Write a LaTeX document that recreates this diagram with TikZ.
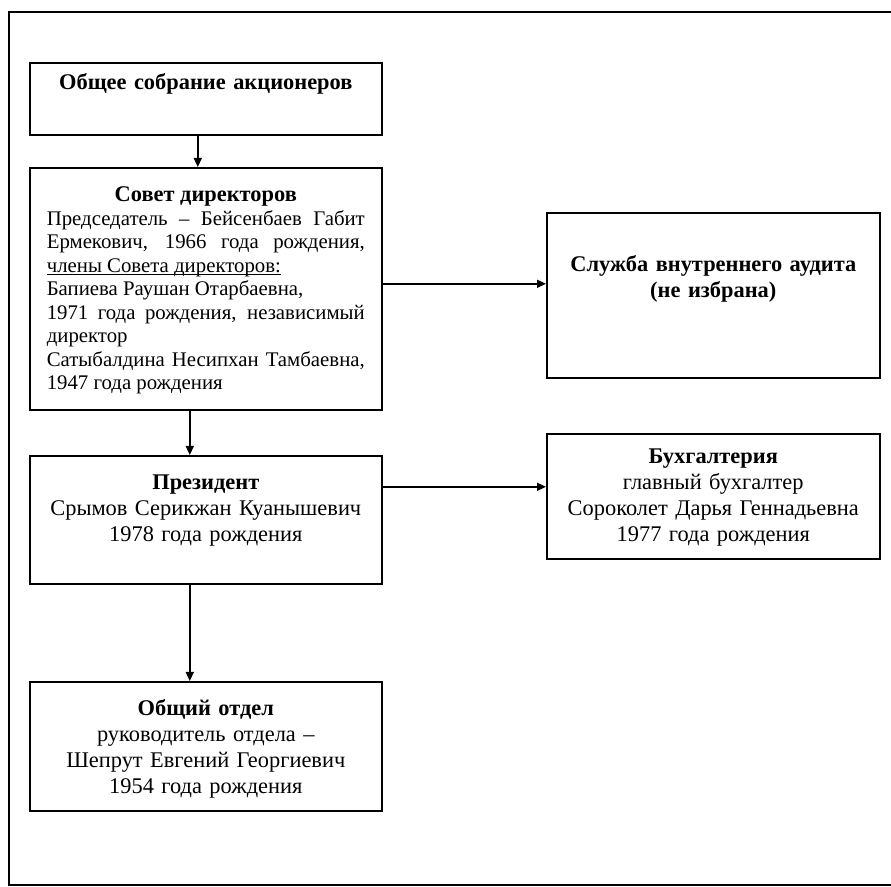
\documentclass[tikz,border=0pt]{standalone}
\usepackage{fontspec}
\setmainfont{Liberation Serif}
\usetikzlibrary{arrows.meta}

\newcommand{\ulbase}[1]{\leavevmode\setbox0\hbox{#1}\rlap{\rule[-1.4pt]{\wd0}{0.45pt}}\box0}

\tikzset{
  box/.style={draw, anchor=north west, inner xsep=6pt, inner ysep=0pt, text width=164pt, align=center, font=\fontsize{11.2}{13}\selectfont},
  rbox/.style={box, text width=154.5pt},
  link/.style={-{Triangle[length=4.5pt,width=4pt]}}
}

\begin{document}
\begin{tikzpicture}[x=0.5pt, y=-0.5pt, thick]
\useasboundingbox (0,0) rectangle (891,887);
\draw (891,12) -- (9,12) -- (9,885) -- (891,885);

\node [box, text height=13.5pt, text depth=22.5pt] (sobranie) at (29,62) {\textbf{Общее собрание акционеров}};
\node [box, align=justify, inner xsep=8.5pt, text width=159pt, font=\fontsize{10.4}{11.75}\selectfont, text height=17pt, text depth=104pt] (sovet) at (29,167) {{\centering\fontsize{11.2}{13}\selectfont\textbf{Совет директоров}\par}\hyphenpenalty=10000
Председатель – Бейсенбаев Габит\linebreak Ермекович, 1966 года рождения,\linebreak \ulbase{члены Совета директоров:}\\
Бапиева Раушан Отарбаевна,\\
1971 года рождения, независимый\linebreak директор\\
Сатыбалдина Несипхан Тамбаевна,\linebreak 1947 года рождения};
\node [rbox, text height=29.5pt, text depth=53pt] (audit) at (546,212) {\textbf{Служба внутреннего аудита}\\\textbf{(не избрана)}};
\node [box, text height=17pt, text depth=47pt] (prezident) at (29,455) {\textbf{Президент}\\Срымов Серикжан Куанышевич\\1978 года рождения};
\node [rbox, text height=15pt, text depth=47.5pt] (buh) at (546,433) {\textbf{Бухгалтерия}\\главный бухгалтер\\Сороколет Дарья Геннадьевна\\1977 года рождения};
\node [box, text height=17pt, text depth=47.5pt] (otdel) at (29,681) {\textbf{Общий отдел}\\руководитель отдела –\\Шепрут Евгений Георгиевич\\1954 года рождения};

\draw[link] ([xshift=-4pt]sobranie.south) -- ([xshift=-4pt]sovet.north);
\draw[link] ([yshift=2.5pt]sovet.east) -- ([yshift=2.5pt]sovet.east -| audit.west);
\draw[link] ([xshift=-8pt]sovet.south) -- ([xshift=-8pt]prezident.north);
\draw[link] ([yshift=16.5pt]prezident.east) -- ([yshift=16.5pt]prezident.east -| buh.west);
\draw[link] ([xshift=-8pt]prezident.south) -- ([xshift=-8pt]otdel.north);
\end{tikzpicture}
\end{document}
